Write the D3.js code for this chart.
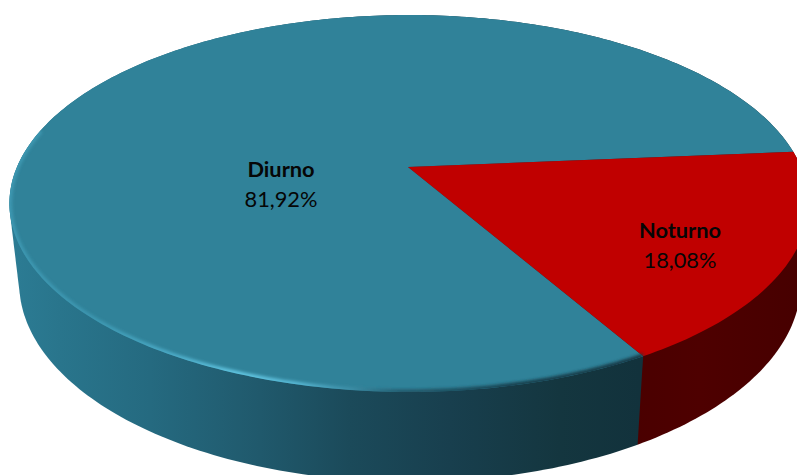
<!DOCTYPE html>
<html lang="pt">
<head>
<meta charset="utf-8">
<script src="https://cdn.jsdelivr.net/npm/d3@7"></script>
<style>
html,body{margin:0;padding:0;background:#fff;overflow:hidden}
text{font-family:Lato,"Open Sans",sans-serif;fill:#060606;text-anchor:middle}
</style>
</head>
<body>
<svg id="chart" width="797" height="475"></svg>
<script>
// Shift distribution
const categories = ["Diurno", "Noturno"];
const shares = [81.92, 18.08];
const shareLabels = ["81,92%", "18,08%"];
const topColors = ["#308299", "#c00000"];

const width = 797, height = 475;
const deg = Math.PI / 180;

// Perspective disc: the top face and the bottom face of the cylinder
const topFace = {cx: 409, cy: 167, a: 392, b: 181.4, k: 0.1936};
const baseFace = {cx: 410, cy: 246, a: 384, b: 192, k: 0.186};

// Angle measured clockwise from the far side of the disc
function project(face, angle, r = 1) {
  const u = r * Math.sin(angle), v = -r * Math.cos(angle);
  const w = 1 - face.k * v;
  return [face.cx + face.a * u / w, face.cy + face.b * v / w];
}

const pie = d3.pie().sort(null).startAngle(150.2 * deg).endAngle(510.2 * deg);
const slices = pie(shares);
const line = d3.line();

function arcPoints(face, a0, a1) {
  const n = Math.ceil(Math.abs(a1 - a0) / (1 * deg));
  return d3.range(n + 1).map(i => project(face, a0 + (a1 - a0) * i / n));
}

const svg = d3.select("#chart").attr("viewBox", [0, 0, width, height]);
const defs = svg.append("defs");

function gradient(id, stops) {
  const g = defs.append("linearGradient").attr("id", id)
    .attr("gradientUnits", "userSpaceOnUse")
    .attr("x1", 0).attr("x2", width).attr("y1", 0).attr("y2", 0);
  g.selectAll("stop").data(stops).join("stop")
    .attr("offset", d => d[0] / width)
    .attr("stop-color", d => d[1])
    .attr("stop-opacity", d => d[2] === undefined ? 1 : d[2]);
}

gradient("wall-diurno", [[10, "#2c7c94"], [60, "#29758c"], [150, "#256a80"], [260, "#20596c"],
  [350, "#1b4a5a"], [450, "#183f4e"], [560, "#14363f"], [640, "#12323c"]]);
gradient("wall-noturno", [[635, "#4a0000"], [700, "#4e0000"], [797, "#470000"]]);
gradient("rim-diurno", [[10, "#3f9ab4", .9], [90, "#3d98b2", .9], [170, "#4aa9c5"], [240, "#60c4e0"],
  [300, "#55b4d0"], [350, "#3f91aa", .8], [400, "#1e5264", .8], [520, "#153f4d"], [640, "#153a47"]]);

defs.append("filter").attr("id", "soft").attr("x", "-5%").attr("y", "-5%")
  .attr("width", "110%").attr("height", "110%")
  .append("feGaussianBlur").attr("stdDeviation", 1.5);

// Side wall: hull of both rims for each slice, so the outline runs tangent between them
const wallFill = ["url(#wall-diurno)", "url(#wall-noturno)"];
svg.append("g").selectAll("path").data(slices).join("path")
  .attr("fill", (d, i) => wallFill[i])
  .attr("d", d => line(d3.polygonHull(arcPoints(topFace, d.startAngle, d.endAngle)
    .concat(arcPoints(baseFace, d.endAngle, d.startAngle)))) + "Z");

// Top face
function wedge(d) {
  return line([[topFace.cx - 1, topFace.cy]].concat(arcPoints(topFace, d.startAngle, d.endAngle))) + "Z";
}
svg.append("g").selectAll("path").data(slices).join("path")
  .attr("fill", (d, i) => topColors[i])
  .attr("d", wedge);

// Bevel along the near edge of the blue slice
svg.append("clipPath").attr("id", "top-clip").append("path")
  .attr("d", line(arcPoints(topFace, 0, 2 * Math.PI)) + "Z");
svg.append("g").attr("clip-path", "url(#top-clip)").append("path")
  .attr("fill", "none").attr("stroke", "url(#rim-diurno)").attr("stroke-width", 5.5)
  .attr("filter", "url(#soft)")
  .attr("d", line(arcPoints(topFace, slices[0].startAngle, 282 * deg)));

// Labels
const labelAnchors = [[281, 177], [680, 238]];
const labels = svg.append("g").selectAll("g").data(categories).join("g")
  .attr("transform", (d, i) => `translate(${labelAnchors[i]})`);
labels.append("text").attr("font-size", 21.8).attr("font-weight", 700).text(d => d);
labels.append("text").attr("y", 29.5).attr("font-size", 21.8).text((d, i) => shareLabels[i]);
</script>
</body>
</html>
